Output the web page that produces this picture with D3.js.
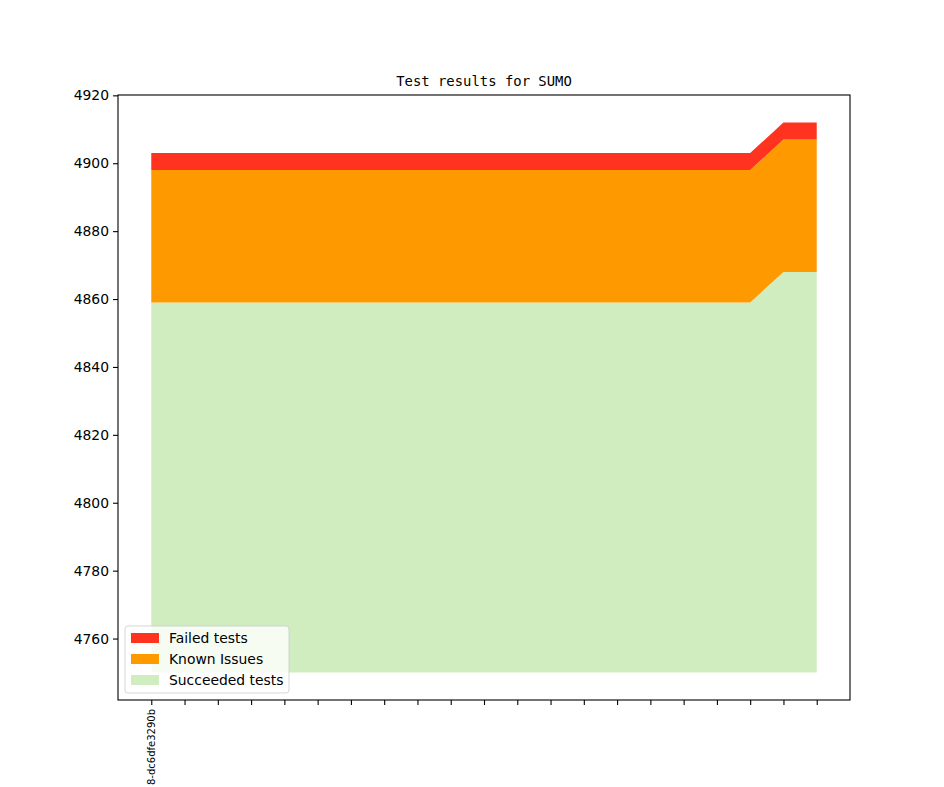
<!DOCTYPE html>
<html>
<head>
<meta charset="utf-8">
<script src="https://cdn.jsdelivr.net/npm/d3@7"></script>
<style>
  body { margin: 0; background: #fff; }
  svg { display: block; }
</style>
</head>
<body>
<div id="chart-container"></div>
<script>
// data
const commits = ['8-dc6dfe3290b', '', '', '', '', '', '', '', '', '', '', '', '', '', '', '', '', '', '', '', '']
const succeeded = [4859, 4859, 4859, 4859, 4859, 4859, 4859, 4859, 4859, 4859, 4859, 4859, 4859, 4859, 4859, 4859, 4859, 4859, 4859, 4868, 4868]
const knownIssues = [39, 39, 39, 39, 39, 39, 39, 39, 39, 39, 39, 39, 39, 39, 39, 39, 39, 39, 39, 39, 39]
const failed = [5, 5, 5, 5, 5, 5, 5, 5, 5, 5, 5, 5, 5, 5, 5, 5, 5, 5, 5, 5, 5]
const baseline = 4750
const yTicks = [4760, 4780, 4800, 4820, 4840, 4860, 4880, 4900, 4920]
const seriesNames = ['Failed tests', 'Known Issues', 'Succeeded tests']
const seriesColors = ['#ff331f', '#ff9900', '#d0edbf']

// constants
const width = 944
const height = 787
const margin = {left: 118, top: 95, right: 94, bottom: 87}
const plotWidth = width - margin.left - margin.right
const plotHeight = height - margin.top - margin.bottom
const sans = '"DejaVu Sans", sans-serif'

const svg = d3.select('#chart-container')
  .append('svg')
  .attr('width', width)
  .attr('height', height)

const container = svg.append('g')
  .attr('transform', `translate(${margin.left}, ${margin.top})`)

// stack the three layers on the baseline
const rows = commits.map((c, i) => {
  const s = succeeded[i]
  const k = s + knownIssues[i]
  const f = k + failed[i]
  return {i, s, k, f}
})

// matplotlib style 5% margins
const n = commits.length
const xPad = (n - 1) * 0.05
const xScale = d3.scaleLinear()
  .domain([-xPad, n - 1 + xPad])
  .range([0, plotWidth])

const yMax = d3.max(rows, d => d.f)
const yPad = (yMax - baseline) * 0.05
const yScale = d3.scaleLinear()
  .domain([baseline - yPad, yMax + yPad])
  .range([plotHeight, 0])

const layers = [
  {lo: d => baseline, hi: d => d.s, color: seriesColors[2]},
  {lo: d => d.s, hi: d => d.k, color: seriesColors[1]},
  {lo: d => d.k, hi: d => d.f, color: seriesColors[0]}
]

layers.forEach(layer => {
  const area = d3.area()
    .x(d => xScale(d.i))
    .y0(d => yScale(layer.lo(d)))
    .y1(d => yScale(layer.hi(d)))
  container.append('path')
    .datum(rows)
    .attr('d', area)
    .attr('fill', layer.color)
})

// axes
const yAxis = d3.axisLeft(yScale)
  .tickValues(yTicks)
  .tickFormat(d3.format('d'))
  .tickSize(5)
  .tickPadding(4)
const yG = container.append('g').call(yAxis)

const xAxis = d3.axisBottom(xScale)
  .tickValues(d3.range(n))
  .tickFormat(i => commits[i])
  .tickSize(5)
  .tickPadding(4)
const xG = container.append('g')
  .attr('transform', `translate(0, ${plotHeight})`)
  .call(xAxis)

yG.select('.domain').remove()
xG.select('.domain').remove()
yG.selectAll('.tick line').attr('stroke-width', 1.1)
xG.selectAll('.tick line').attr('stroke-width', 1.1)
yG.selectAll('.tick text')
  .style('font-family', sans)
  .style('font-size', '13.9px')
  .attr('fill', '#000')
xG.selectAll('.tick text')
  .style('font-family', sans)
  .style('font-size', '10px')
  .attr('fill', '#000')
  .attr('transform', 'rotate(-90)')
  .attr('text-anchor', 'end')
  .attr('x', -9)
  .attr('y', 0)
  .attr('dy', '0.35em')

// frame
container.append('rect')
  .attr('width', plotWidth)
  .attr('height', plotHeight)
  .attr('fill', 'none')
  .attr('stroke', '#000')
  .attr('stroke-width', 1.1)

// title
svg.append('text')
  .attr('x', margin.left + plotWidth / 2)
  .attr('y', margin.top - 9)
  .attr('text-anchor', 'middle')
  .style('font-family', '"DejaVu Sans Mono", monospace')
  .style('font-size', '13.9px')
  .text('Test results for SUMO')

// legend
const legend = container.append('g')
  .attr('transform', `translate(7, ${plotHeight - 74})`)
legend.append('rect')
  .attr('width', 164)
  .attr('height', 67)
  .attr('rx', 3)
  .attr('fill', 'rgba(255,255,255,0.8)')
  .attr('stroke', 'rgba(204,204,204,0.8)')
  .attr('stroke-width', 1)
seriesNames.forEach((name, i) => {
  const row = legend.append('g').attr('transform', `translate(6, ${7 + i * 21})`)
  row.append('rect')
    .attr('width', 28)
    .attr('height', 10)
    .attr('fill', seriesColors[i])
  row.append('text')
    .attr('x', 38)
    .attr('y', 5)
    .attr('dy', '0.35em')
    .style('font-family', sans)
    .style('font-size', '13.9px')
    .text(name)
})
</script>
</body>
</html>
